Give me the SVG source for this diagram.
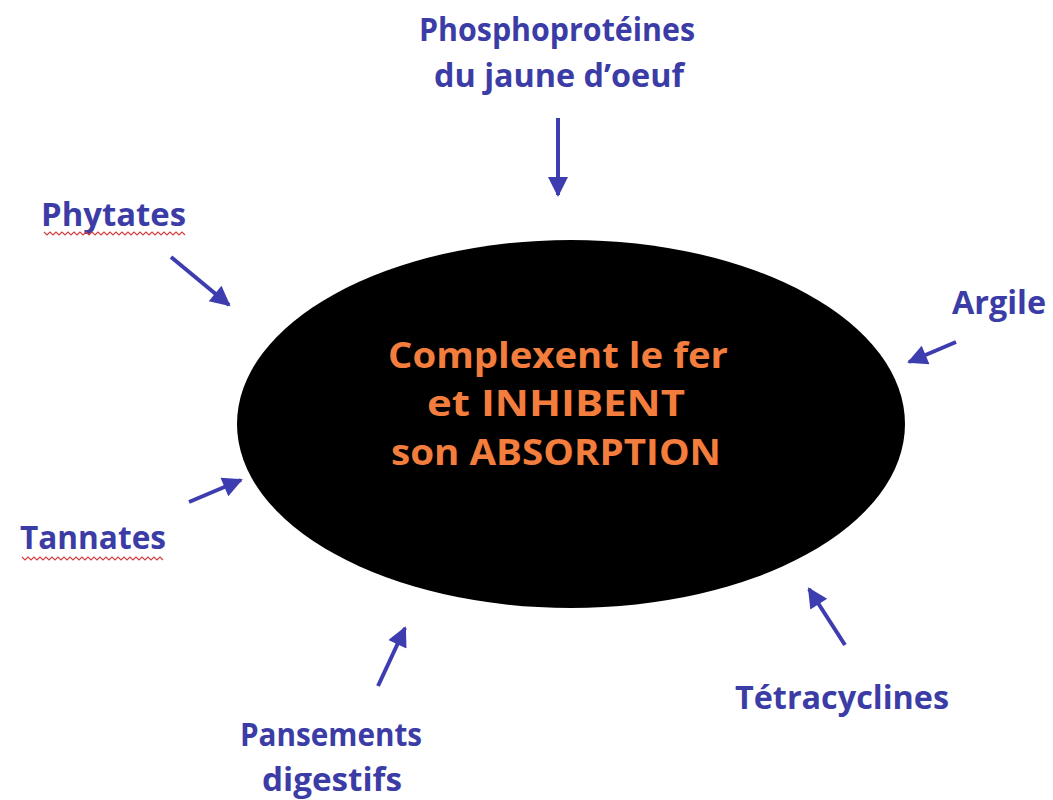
<svg xmlns="http://www.w3.org/2000/svg" width="1053" height="800" viewBox="0 0 1053 800">
<defs>
<marker id="ah" viewBox="0 0 10 10" refX="9" refY="5" markerWidth="5.5" markerHeight="5" orient="auto" markerUnits="strokeWidth">
<path d="M0,0 L10,5 L0,10 Z" fill="#3d3db0"/>
</marker>
<style>
.lbl{font-family:"Open Sans","Liberation Sans",sans-serif;font-weight:bold;font-size:33px;fill:#3c3ca6;}
.ctr{font-family:"Open Sans","Liberation Sans",sans-serif;font-weight:bold;font-size:36px;fill:#f27d3c;text-anchor:middle;}
.arr{stroke:#3d3db0;stroke-width:4;fill:none;marker-end:url(#ah);}
.wav{stroke:#d04040;stroke-width:1.2;fill:none;}
</style>
</defs>
<rect width="1053" height="800" fill="#ffffff"/>
<g id="center">
<ellipse cx="571" cy="424" rx="334" ry="184" fill="#000000"/>
<text class="ctr" x="558" y="368" textLength="340" lengthAdjust="spacingAndGlyphs">Complexent le fer</text>
<text class="ctr" x="556" y="416" textLength="258" lengthAdjust="spacingAndGlyphs">et INHIBENT</text>
<text class="ctr" x="556" y="465" textLength="330" lengthAdjust="spacingAndGlyphs">son ABSORPTION</text>
</g>
<g id="phospho">
<text class="lbl" x="419" y="41" textLength="276" lengthAdjust="spacingAndGlyphs">Phosphoprotéines</text>
<text class="lbl" x="434" y="87" textLength="250" lengthAdjust="spacingAndGlyphs">du jaune d’oeuf</text>
</g>
<g id="phytates">
<text class="lbl" x="41" y="226" textLength="145" lengthAdjust="spacingAndGlyphs">Phytates</text>
<path class="wav" d="M44,232 l3,3 l3,-3 l3,3 l3,-3 l3,3 l3,-3 l3,3 l3,-3 l3,3 l3,-3 l3,3 l3,-3 l3,3 l3,-3 l3,3 l3,-3 l3,3 l3,-3 l3,3 l3,-3 l3,3 l3,-3 l3,3 l3,-3 l3,3 l3,-3 l3,3 l3,-3 l3,3 l3,-3 l3,3 l3,-3 l3,3 l3,-3 l3,3 l3,-3 l3,3 l3,-3 l3,3 l3,-3 l3,3 l3,-3 l3,3 l3,-3 l3,3 l3,-3 l3,3"/>
</g>
<g id="argile">
<text class="lbl" x="952" y="314" textLength="94" lengthAdjust="spacingAndGlyphs">Argile</text>
</g>
<g id="tannates">
<text class="lbl" x="20" y="549" textLength="146" lengthAdjust="spacingAndGlyphs">Tannates</text>
<path class="wav" d="M22,557 l3,3 l3,-3 l3,3 l3,-3 l3,3 l3,-3 l3,3 l3,-3 l3,3 l3,-3 l3,3 l3,-3 l3,3 l3,-3 l3,3 l3,-3 l3,3 l3,-3 l3,3 l3,-3 l3,3 l3,-3 l3,3 l3,-3 l3,3 l3,-3 l3,3 l3,-3 l3,3 l3,-3 l3,3 l3,-3 l3,3 l3,-3 l3,3 l3,-3 l3,3 l3,-3 l3,3 l3,-3 l3,3 l3,-3 l3,3 l3,-3 l3,3 l3,-3 l3,3"/>
</g>
<g id="pansements">
<text class="lbl" x="240" y="746" textLength="182" lengthAdjust="spacingAndGlyphs">Pansements</text>
<text class="lbl" x="262" y="791" textLength="140" lengthAdjust="spacingAndGlyphs">digestifs</text>
</g>
<g id="tetracyclines">
<text class="lbl" x="735" y="709" textLength="214" lengthAdjust="spacingAndGlyphs">Tétracyclines</text>
</g>
<g id="connectors">
<line class="arr" x1="558" y1="118" x2="558" y2="195"/>
<line class="arr" x1="171" y1="257" x2="229" y2="305"/>
<line class="arr" x1="956" y1="342" x2="909" y2="362"/>
<line class="arr" x1="189" y1="502" x2="241" y2="480"/>
<line class="arr" x1="378" y1="686" x2="405" y2="628"/>
<line class="arr" x1="845" y1="645" x2="809" y2="589"/>
</g>
</svg>
